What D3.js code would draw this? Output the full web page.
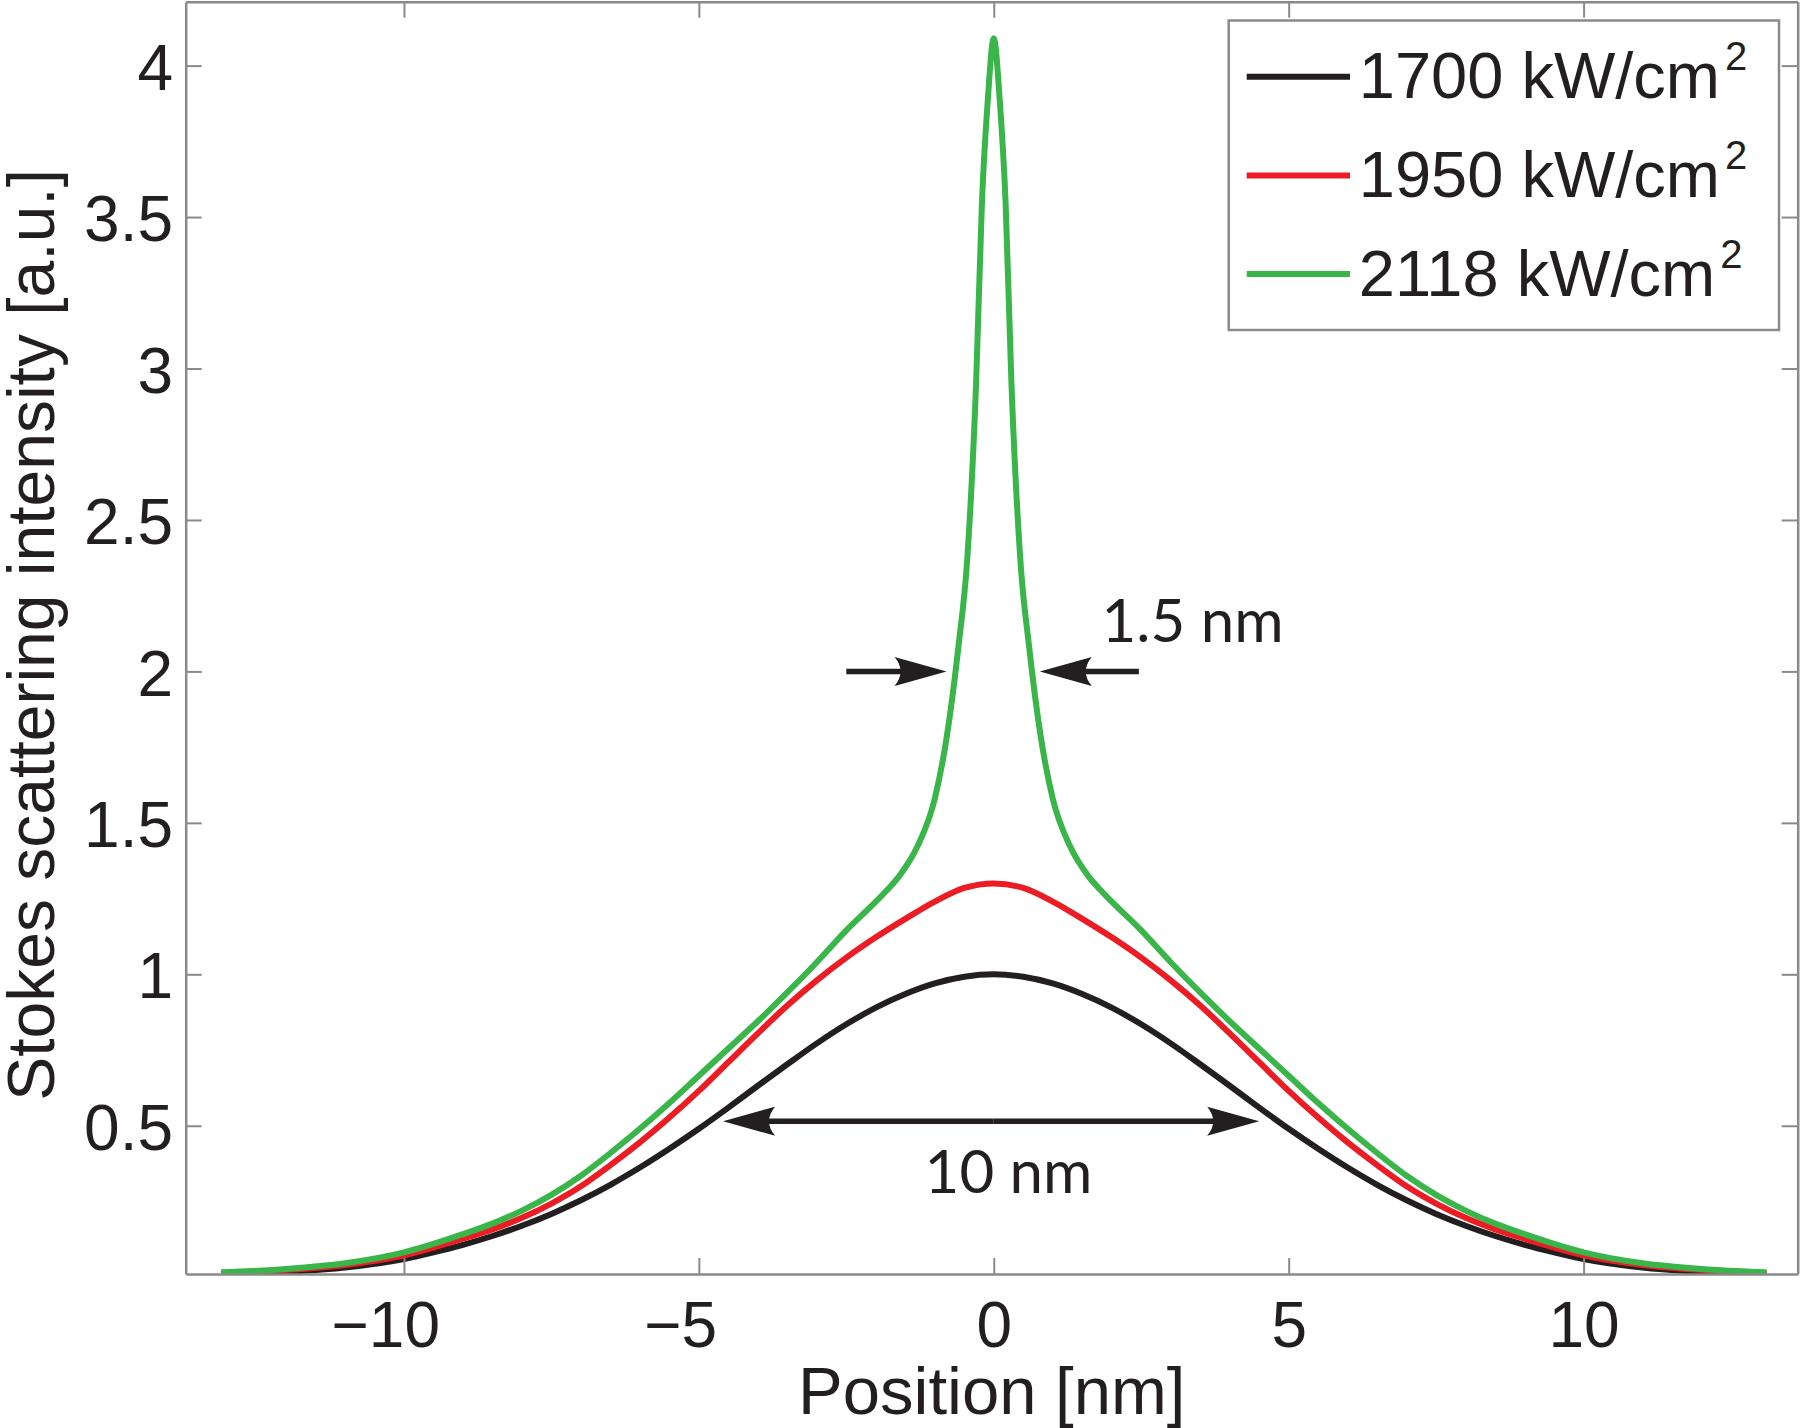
<!DOCTYPE html>
<html><head><meta charset="utf-8">
<script src="https://cdn.jsdelivr.net/npm/d3@7"></script>
<style>body{margin:0;background:#fff}</style>
</head><body><svg id="c" width="1800" height="1428"></svg>
<script>
// ---- data ----
const seriesNames = ["1700 kW/cm", "1950 kW/cm", "2118 kW/cm"];
const positionsBR = [-13.1,-12,-11,-10,-9.5,-9,-8.5,-8,-7.5,-7,-6.5,-6,-5.5,-5,-4.5,-4,-3.5,-3,-2.5,-2,-1.5,-1,-0.5,0,0.5,1,1.5,2,2.5,3,3.5,4,4.5,5,5.5,6,6.5,7,7.5,8,8.5,9,9.5,10,11,12,13.1];
const black1700 = [0.011,0.018,0.032,0.06,0.082,0.107,0.136,0.17,0.209,0.254,0.305,0.362,0.424,0.49,0.56,0.632,0.703,0.772,0.835,0.89,0.935,0.97,0.992,1.00,0.992,0.97,0.935,0.89,0.835,0.772,0.703,0.632,0.56,0.49,0.424,0.362,0.305,0.254,0.209,0.17,0.136,0.107,0.082,0.06,0.032,0.018,0.011];
const red1950 = [0.014,0.024,0.04,0.072,0.098,0.127,0.158,0.196,0.243,0.30,0.37,0.445,0.527,0.615,0.71,0.805,0.897,0.98,1.055,1.122,1.183,1.24,1.285,1.30,1.285,1.24,1.183,1.122,1.055,0.98,0.897,0.805,0.71,0.615,0.527,0.445,0.37,0.30,0.243,0.196,0.158,0.127,0.098,0.072,0.04,0.024,0.014];
const positionsG = [-13.1,-12,-11,-10,-9.5,-9,-8.5,-8,-7.5,-7,-6.5,-6,-5.5,-5,-4.5,-4,-3.5,-3,-2.5,-2,-1.8,-1.6,-1.3,-1,-0.8,-0.6,-0.45,-0.3,-0.2,-0.1,0,0.1,0.2,0.3,0.45,0.6,0.8,1,1.3,1.6,1.8,2,2.5,3,3.5,4,4.5,5,5.5,6,6.5,7,7.5,8,8.5,9,9.5,10,11,12,13.1];
const green2118 = [0.016,0.027,0.046,0.082,0.11,0.142,0.177,0.22,0.272,0.335,0.41,0.49,0.575,0.665,0.755,0.845,0.94,1.04,1.145,1.24,1.28,1.325,1.42,1.58,1.78,2.08,2.37,2.95,3.55,3.89,4.09,3.89,3.55,2.95,2.37,2.08,1.78,1.58,1.42,1.325,1.28,1.24,1.145,1.04,0.94,0.845,0.755,0.665,0.575,0.49,0.41,0.335,0.272,0.22,0.177,0.142,0.11,0.082,0.046,0.027,0.016];
const xTicks = [-10,-5,0,5,10];
const yTicks = [0.5,1,1.5,2,2.5,3,3.5,4];
const xDomain = [-13.70, 13.63];
const yDomain = [0.0106, 4.211];
// annotations in data units
const arrows15 = [[-2.5,2.0,-0.8,2.0],[2.46,2.0,0.78,2.0]];
const arrows10 = [[0,0.515,-4.59,0.515],[0,0.515,4.5,0.515]];
const notes = [{text:"1.5 nm", x:3.37, y:2.097},{text:"10 nm", x:0.25, y:0.277}];

// ---- layout ----
const L=185.7, R=1797.7, T=1.7, B=1274;
const colors = ["#231f20","#ed1c24","#39b54a"];
const axisColor = "#8a8a8a";
const svg = d3.select("#c");
const x = d3.scaleLinear().domain(xDomain).range([L,R]);
const y = d3.scaleLinear().domain(yDomain).range([B,T]);

svg.append("defs").append("clipPath").attr("id","pc")
  .append("rect").attr("x",L).attr("y",T).attr("width",R-L).attr("height",B-T);

// curves
const line = d3.line().x(d=>x(d[0])).y(d=>y(d[1])).curve(d3.curveMonotoneX);
const series = [
  positionsBR.map((p,i)=>[p,black1700[i]]),
  positionsBR.map((p,i)=>[p,red1950[i]]),
  positionsG.map((p,i)=>[p,green2118[i]])
];
const g = svg.append("g").attr("clip-path","url(#pc)");
series.forEach((s,i)=>{
  g.append("path").attr("d",line(s)).attr("fill","none")
   .attr("stroke",colors[i]).attr("stroke-width",6).attr("stroke-linejoin","round");
});

// axes
const fontAx = "'Liberation Sans', Arial, sans-serif";
function styleAxis(sel){
  sel.selectAll(".domain").attr("stroke",axisColor).attr("stroke-width",2.5);
  sel.selectAll(".tick line").attr("stroke",axisColor).attr("stroke-width",2);
  sel.selectAll("text").attr("fill","#231f20").attr("font-size",64).attr("font-family",fontAx);
}
const xb = svg.append("g").attr("transform",`translate(0,${B})`)
  .call(d3.axisBottom(x).tickValues(xTicks).tickSize(-16).tickSizeOuter(0).tickPadding(27.3).tickFormat(d3.format("d")));
styleAxis(xb);
xb.selectAll(".tick text").filter(d=>d<0).attr("dx","-0.292em");
const xt = svg.append("g").attr("transform",`translate(0,${T})`)
  .call(d3.axisTop(x).tickValues(xTicks).tickSize(-16).tickSizeOuter(0).tickFormat(""));
styleAxis(xt);
const yl = svg.append("g").attr("transform",`translate(${L},0)`)
  .call(d3.axisLeft(y).tickValues(yTicks).tickSize(-16).tickSizeOuter(0).tickPadding(12.7).tickFormat(d=>String(d)));
styleAxis(yl);
yl.selectAll(".tick text").attr("dy","0.37em");
const yr = svg.append("g").attr("transform",`translate(${R},0)`)
  .call(d3.axisRight(y).tickValues(yTicks).tickSize(-16).tickSizeOuter(0).tickFormat(""));
styleAxis(yr);

// axis labels
svg.append("text").attr("x",(L+R)/2).attr("y",1414).attr("text-anchor","middle")
  .attr("font-family",fontAx).attr("font-size",67).attr("fill","#231f20").text("Position [nm]");
svg.append("text").attr("transform",`translate(54,${(T+B)/2 - 3}) rotate(-90)`).attr("text-anchor","middle")
  .attr("font-family",fontAx).attr("font-size",66).attr("fill","#231f20").text("Stokes scattering intensity [a.u.]");

// annotations
const ann = svg.append("g");
function arrow(a){
  const [x0,y0,x1,y1] = a;
  const X0=x(x0), Y0=y(y0), X1=x(x1), Y1=y(y1);
  const ang = Math.atan2(Y1-Y0, X1-X0);
  const Lh=52, W=14.5, N=36;
  const gg = ann.append("g").attr("transform",`translate(${X1},${Y1}) rotate(${ang*180/Math.PI})`);
  const len = Math.hypot(X1-X0,Y1-Y0);
  gg.append("line").attr("x1",-len).attr("y1",0).attr("x2",-N).attr("y2",0)
    .attr("stroke","#231f20").attr("stroke-width",5.5);
  gg.append("path").attr("d",`M0,0 L${-Lh},${-W} Q${-N-4},0 ${-Lh},${W} Z`).attr("fill","#231f20");
}
arrows15.forEach(arrow);
arrows10.forEach(arrow);
notes.forEach(n=>{
  ann.append("text").attr("x",x(n.x)).attr("y",y(n.y)).attr("text-anchor","middle")
    .attr("font-family","Lato, 'Open Sans', sans-serif").attr("font-size",60).attr("fill","#231f20").text(n.text);
});

// legend
const lg = svg.append("g");
lg.append("rect").attr("x",1228.7).attr("y",20.5).attr("width",1779-1228.7).attr("height",309.5)
  .attr("fill","#fff").attr("stroke",axisColor).attr("stroke-width",2.5);
seriesNames.forEach((nm,i)=>{
  const cy = 76.7 + i*98.7;
  lg.append("line").attr("x1",1246.7).attr("x2",1350).attr("y1",cy).attr("y2",cy)
    .attr("stroke",colors[i]).attr("stroke-width",6);
  const t = lg.append("text").attr("x",1358.8).attr("y",cy+21.6)
    .attr("font-family",fontAx).attr("font-size",65).attr("fill","#231f20");
  t.append("tspan").text(nm);
  t.append("tspan").attr("font-size",40).attr("dx",5).attr("dy",-28).text("2");
});
</script></body></html>
